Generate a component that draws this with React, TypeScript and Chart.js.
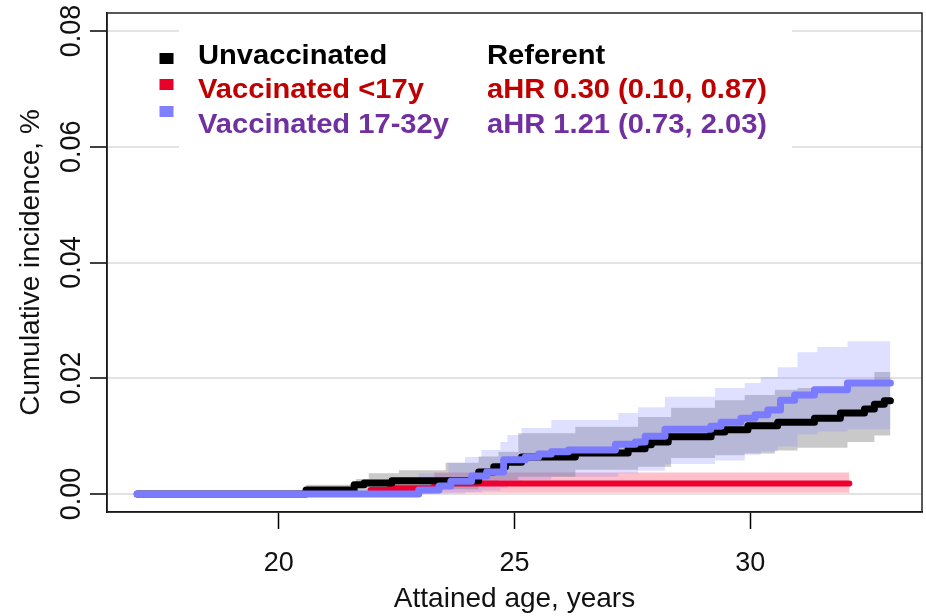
import React, { useEffect, useRef } from "react";
import { Chart, registerables } from "chart.js";

Chart.register(...registerables);

const FONT = '"Liberation Sans", Arial, Helvetica, sans-serif';

// Axis ticks
const X_TICKS = [20, 25, 30];
const Y_TICKS = [0, 0.02, 0.04, 0.06, 0.08];
const Y_TICK_LABELS = ["0.00", "0.02", "0.04", "0.06", "0.08"];

// Unvaccinated (black) cumulative incidence
const UNVAC_AGE = [17, 20.58, 21.6, 21.81, 22.4, 24.24, 24.56, 24.81, 25.15, 26.29, 27.41, 27.77, 27.9, 28.26, 29.17, 29.46, 29.95, 30.58, 31.36, 31.91, 32.42, 32.63, 32.84, 32.97];
const UNVAC_CI = [0, 0.0007, 0.0016, 0.0019, 0.0023, 0.0038, 0.0047, 0.0055, 0.0064, 0.0071, 0.0078, 0.0085, 0.009, 0.0099, 0.0107, 0.0111, 0.0118, 0.0124, 0.0131, 0.014, 0.0147, 0.0155, 0.0161, 0.0161];
// Unvaccinated confidence band
const UNVAC_BAND_AGE = [17, 20.58, 21.64, 21.91, 22.55, 23.54, 24.24, 24.66, 25.08, 26.29, 27.62, 28.32, 29.25, 29.88, 30.52, 31.0, 32.06, 32.63, 32.97];
const UNVAC_UPPER = [0, 0.0016, 0.0026, 0.0036, 0.0041, 0.0054, 0.0065, 0.0073, 0.0105, 0.0116, 0.0133, 0.0149, 0.0162, 0.0171, 0.018, 0.0183, 0.0188, 0.0211, 0.0211];
const UNVAC_LOWER = [0, 0.0001, 0.0004, 0.0006, 0.0008, 0.0008, 0.0017, 0.0024, 0.003, 0.0042, 0.0047, 0.0062, 0.0067, 0.007, 0.0075, 0.008, 0.009, 0.0101, 0.0106];

// Vaccinated <17y (red)
const VAC17_AGE = [17, 21.95, 22.35, 23.3, 32.1];
const VAC17_CI = [0, 0.0007, 0.001, 0.0018, 0.0018];
const VAC17_UPPER = [0, 0.0022, 0.0028, 0.0037, 0.0037];
const VAC17_LOWER = [0, 0.0001, 0.0001, 0.0002, 0.0002];

// Vaccinated 17-32y (blue)
const VAC1732_AGE = [17, 22.97, 23.4, 23.65, 24.09, 24.41, 24.77, 25.23, 25.51, 25.78, 26.14, 27.14, 27.56, 27.77, 28.19, 29.16, 29.38, 29.8, 30.1, 30.37, 30.64, 30.94, 31.36, 32.06, 32.97];
const VAC1732_CI = [0, 0.0007, 0.0014, 0.0022, 0.0031, 0.0038, 0.0059, 0.0064, 0.0069, 0.0073, 0.0076, 0.0086, 0.009, 0.01, 0.0112, 0.0117, 0.0124, 0.0131, 0.0137, 0.0145, 0.0162, 0.0171, 0.018, 0.0192, 0.0192];
const VAC1732_BAND_AGE = [17, 22.97, 23.6, 23.95, 24.3, 24.7, 24.85, 25.15, 25.78, 27.2, 27.62, 28.19, 29.25, 29.88, 30.22, 30.58, 31.0, 31.42, 32.06, 32.97];
const VAC1732_UPPER = [0, 0.0036, 0.0054, 0.0064, 0.0076, 0.009, 0.0102, 0.0114, 0.0128, 0.014, 0.015, 0.0168, 0.0183, 0.0192, 0.0202, 0.0219, 0.0245, 0.0254, 0.0264, 0.0264];
const VAC1732_LOWER = [0, 0, 0.0001, 0.0003, 0.0006, 0.001, 0.0022, 0.0024, 0.003, 0.0036, 0.004, 0.0052, 0.0058, 0.0068, 0.0074, 0.0082, 0.0103, 0.0108, 0.0112, 0.0112];

// Legend
const LEGEND_NAMES = ["Unvaccinated", "Vaccinated <17y", "Vaccinated 17-32y"];
const LEGEND_HR = ["Referent", "aHR 0.30 (0.10, 0.87)", "aHR 1.21 (0.73, 2.03)"];
const LEGEND_TEXT_COLORS = ["#000000", "#C00000", "#7030A0"];
const LEGEND_MARK_COLORS = ["#000000", "#E8002A", "#8080FF"];

const pts = (xs: number[], ys: number[]) => xs.map((x, i) => ({ x, y: ys[i] }));

const lineDs = (xs: number[], ys: number[], color: string, width: number) => ({
  data: pts(xs, ys),
  borderColor: color,
  borderWidth: width,
  stepped: true,
  pointRadius: 0,
  fill: false,
  borderCapStyle: "round",
  borderJoinStyle: "round",
});

const bandDs = (xs: number[], ys: number[], fillColor: string | null) => ({
  data: pts(xs, ys),
  borderWidth: 0,
  borderColor: "rgba(0,0,0,0)",
  backgroundColor: fillColor || "rgba(0,0,0,0)",
  stepped: true,
  pointRadius: 0,
  fill: fillColor ? "+1" : false,
});

const decorPlugin = {
  id: "decor",
  afterDraw(chart: any) {
    const { ctx, chartArea } = chart;
    const ys = chart.scales.y;
    ctx.save();
    // plot frame
    ctx.strokeStyle = "#222";
    ctx.lineWidth = 1.5;
    ctx.strokeRect(chartArea.left, chartArea.top, chartArea.right - chartArea.left, chartArea.bottom - chartArea.top);

    // rotated y tick labels
    ctx.fillStyle = "#111";
    ctx.font = `27px ${FONT}`;
    ctx.textAlign = "center";
    ctx.textBaseline = "alphabetic";
    Y_TICKS.forEach((v, i) => {
      const py = ys.getPixelForValue(v);
      ctx.save();
      ctx.translate(80, py);
      ctx.rotate(-Math.PI / 2);
      ctx.scale(1, 1.08);
      ctx.fillText(Y_TICK_LABELS[i], 0, 0);
      ctx.restore();
    });

    // legend
    ctx.fillStyle = "#ffffff";
    ctx.fillRect(179, 22, 613, 130);
    const markY = [53, 79, 106];
    const baseY = [63.5, 98, 133];
    ctx.font = `bold 28px ${FONT}`;
    ctx.textAlign = "left";
    for (let i = 0; i < 3; i++) {
      ctx.fillStyle = LEGEND_MARK_COLORS[i];
      ctx.fillRect(159.5, markY[i], 14, 11);
      ctx.fillStyle = LEGEND_TEXT_COLORS[i];
      ctx.save();
      ctx.translate(198, baseY[i]);
      ctx.scale(1.04, 1);
      ctx.fillText(LEGEND_NAMES[i], 0, 0);
      ctx.restore();
      ctx.save();
      ctx.translate(487, baseY[i]);
      ctx.scale(1.04, 1);
      ctx.fillText(LEGEND_HR[i], 0, 0);
      ctx.restore();
    }
    ctx.restore();
  },
};

export default function App() {
  const ref = useRef<HTMLCanvasElement | null>(null);
  useEffect(() => {
    if (!ref.current) return;
    const chart = new Chart(ref.current, {
      type: "line",
      data: {
        datasets: [
          lineDs(VAC1732_AGE, VAC1732_CI, "#7B7BFF", 7),
          lineDs(UNVAC_AGE, UNVAC_CI, "#000000", 7),
          lineDs(VAC17_AGE, VAC17_CI, "#EE0030", 6),
          bandDs(VAC1732_BAND_AGE, VAC1732_UPPER, "rgba(128,128,255,0.25)"),
          bandDs(VAC1732_BAND_AGE, VAC1732_LOWER, null),
          bandDs(UNVAC_BAND_AGE, UNVAC_UPPER, "rgba(120,120,120,0.4)"),
          bandDs(UNVAC_BAND_AGE, UNVAC_LOWER, null),
          bandDs(VAC17_AGE, VAC17_UPPER, "rgba(255,30,60,0.28)"),
          bandDs(VAC17_AGE, VAC17_LOWER, null),
        ] as any,
      },
      options: {
        animation: false,
        responsive: false,
        maintainAspectRatio: false,
        devicePixelRatio: 1,
        events: [],
        layout: { padding: { top: 13, right: 4, left: 0, bottom: 0 } },
        plugins: {
          legend: { display: false },
          tooltip: { enabled: false },
        },
        scales: {
          x: {
            type: "linear",
            min: 16.36,
            max: 33.64,
            afterBuildTicks: (s: any) => {
              s.ticks = X_TICKS.map((v) => ({ value: v }));
            },
            afterFit: (s: any) => {
              s.height = 104;
            },
            grid: { drawOnChartArea: false, drawTicks: true, tickLength: 17, tickColor: "#000", tickWidth: 1.5 },
            border: { display: true, color: "#000", width: 1.5 },
            ticks: {
              font: { family: FONT, size: 27 },
              color: "#111",
              padding: 18,
              maxRotation: 0,
              autoSkip: false,
              callback: (v: any) => String(v),
            },
            title: {
              display: true,
              text: "Attained age, years",
              font: { family: FONT, size: 28, lineHeight: 1.2 },
              color: "#111",
              padding: { top: 0, bottom: 0 },
            },
          },
          y: {
            type: "linear",
            min: -0.00311,
            max: 0.08311,
            afterBuildTicks: (s: any) => {
              s.ticks = Y_TICKS.map((v) => ({ value: v }));
            },
            afterFit: (s: any) => {
              s.width = 107;
            },
            grid: { color: "#e3e3e3", lineWidth: 2, drawTicks: true, tickLength: 17, tickColor: "#000", tickWidth: 1.5 },
            border: { display: true, color: "#000", width: 1.5 },
            ticks: { display: false },
            title: {
              display: true,
              text: "Cumulative incidence, %",
              font: { family: FONT, size: 28, lineHeight: 1.2 },
              color: "#111",
              padding: { top: 14, bottom: 0 },
            },
          },
        },
      } as any,
      plugins: [decorPlugin],
    });
    return () => chart.destroy();
  }, []);

  return (
    <div style={{ position: "absolute", left: 0, top: 0, width: 926, height: 616, background: "#fff" }}>
      <canvas ref={ref} width={926} height={616} style={{ display: "block", width: 926, height: 616 }} />
    </div>
  );
}
